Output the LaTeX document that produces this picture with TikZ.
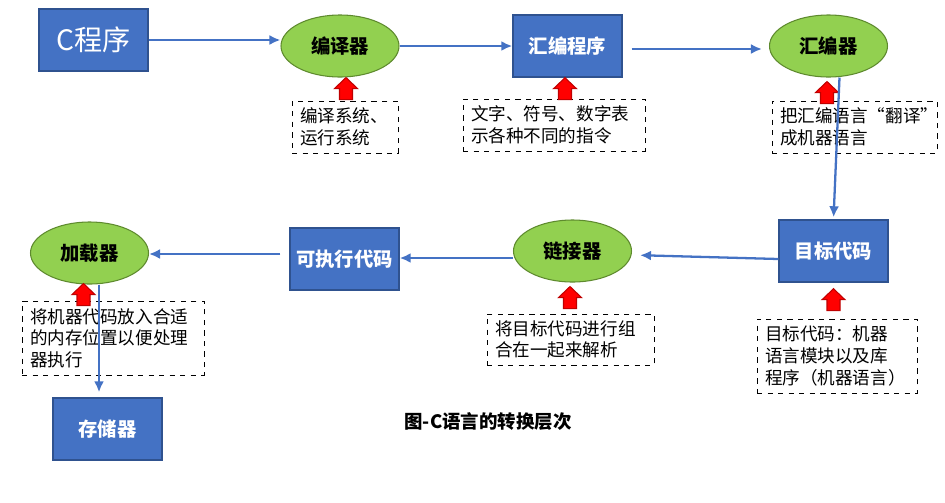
\documentclass[tikz,border=0pt]{standalone}
\usepackage{fontspec}
\setmainfont{Noto Sans CJK SC}
\usetikzlibrary{arrows.meta, shapes.geometric}
\definecolor{boxblue}{HTML}{4472C4}
\definecolor{boxline}{HTML}{2F528F}
\definecolor{ovalgreen}{HTML}{92D050}
\definecolor{ovalline}{HTML}{5E8A2E}

\begin{document}
\begin{tikzpicture}[
		stage/.style={draw=boxline, fill=boxblue, line width=0.8pt, minimum width=2.18cm, minimum height=1.24cm, text=white, font=\fontsize{11}{13}\selectfont\bfseries},
		tool/.style={ellipse, draw=ovalline, fill=ovalgreen, line width=0.6pt, minimum width=2.36cm, minimum height=1.24cm, font=\fontsize{11}{13}\selectfont\bfseries},
		note/.style={draw, dashed, line width=0.5pt, inner xsep=0.16cm, align=left, anchor=center, font=\fontsize{10}{12.3}\selectfont},
		flow/.style={draw=boxblue, line width=1.3pt, -{Latex[length=2.2mm,width=2mm]}},
		redup/.pic={\draw[fill=red, draw=red!75!black, line width=0.6pt] (0,0) -- (0.23,-0.22) -- (0.13,-0.22) -- (0.13,-0.44) -- (-0.13,-0.44) -- (-0.13,-0.22) -- (-0.23,-0.22) -- cycle;}
	]
		\useasboundingbox (0,0) rectangle (18.9,-10.04);

		\node[stage, font=\fontsize{16}{18}\selectfont] (cprog) at (1.87,-0.80) {C程序};
		\node[tool] (compiler) at (6.80,-0.92) {编译器};
		\node[stage] (asmprog) at (11.35,-0.92) {汇编程序};
		\node[tool] (assembler) at (16.57,-0.92) {汇编器};
		\node[stage] (objcode) at (16.67,-5.02) {目标代码};
		\node[tool] (linker) at (11.45,-5.02) {链接器};
		\node[stage] (exe) at (6.89,-5.18) {可执行代码};
		\node[tool] (loader) at (1.79,-5.06) {加载器};
		\node[stage] (memory) at (2.15,-8.58) {存储器};

		\node[note, minimum width=2.12cm, minimum height=1.04cm, text width=1.80cm] (n1) at (6.90,-2.54) {编译系统、\\运行系统};
		\node[note, minimum width=3.64cm, minimum height=1.04cm, text width=3.32cm] (n2) at (11.08,-2.50) {文字、符号、数字表\\示各种不同的指令};
		\node[note, minimum width=3.30cm, minimum height=1.04cm, text width=2.98cm] (n3) at (17.09,-2.54) {把汇编语言“翻译”\\成机器语言};
		\node[note, minimum width=3.64cm, minimum height=1.48cm, text width=3.32cm] (n4) at (2.26,-6.76) {将机器代码放入合适\\的内存位置以便处理\\器执行};
		\node[note, minimum width=3.34cm, minimum height=1.02cm, text width=3.02cm] (n5) at (11.41,-6.79) {将目标代码进行组\\合在一起来解析};
		\node[note, minimum width=3.20cm, minimum height=1.48cm, text width=2.88cm] (n6) at (16.74,-7.12) {目标代码：机器\\语言模块以及库\\程序（机器语言）};

		\node[font=\fontsize{10.5}{12}\selectfont\bfseries] (caption) at (9.76,-8.44) {图-C语言的转换层次};

		\pic at ([xshift=0.12cm]compiler.south) {redup};
		\pic at ([xshift=-0.05cm]asmprog.south) {redup};
		\pic at ([xshift=-0.03cm,yshift=-0.08cm]assembler.south) {redup};
		\pic at ([xshift=-0.12cm,yshift=0.02cm]loader.south) {redup};
		\pic at ([xshift=-0.05cm,yshift=-0.08cm]linker.south) {redup};
		\pic at ([yshift=-0.12cm]objcode.south) {redup};

		\draw[flow] (cprog.east) -- (cprog.east -| compiler.west);
		\draw[flow] (compiler.east) -- (asmprog.west);
		\draw[flow, shorten <=0.18cm, shorten >=0.14cm] ([yshift=-0.06cm]asmprog.east) -- ([yshift=-0.06cm]asmprog.east -| assembler.west);
		\draw[flow, shorten >=0.04cm] ([xshift=0.22cm]assembler.south) -- (objcode.north);
		\draw[flow, shorten >=0.16cm] ([yshift=-0.16cm]objcode.west) -- ([yshift=-0.08cm]linker.east);
		\draw[flow] ([yshift=-0.14cm]linker.west) -- ([yshift=-0.14cm]linker.west -| exe.east);
		\draw[flow, shorten <=0.18cm] ([yshift=0.10cm]exe.west) -- ([yshift=0.10cm]exe.west -| loader.east);
		\draw[flow, shorten >=0.1cm] ([xshift=0.19cm]loader.south) -- ([xshift=0.19cm]loader.south |- memory.north);
	\end{tikzpicture}
\end{document}
